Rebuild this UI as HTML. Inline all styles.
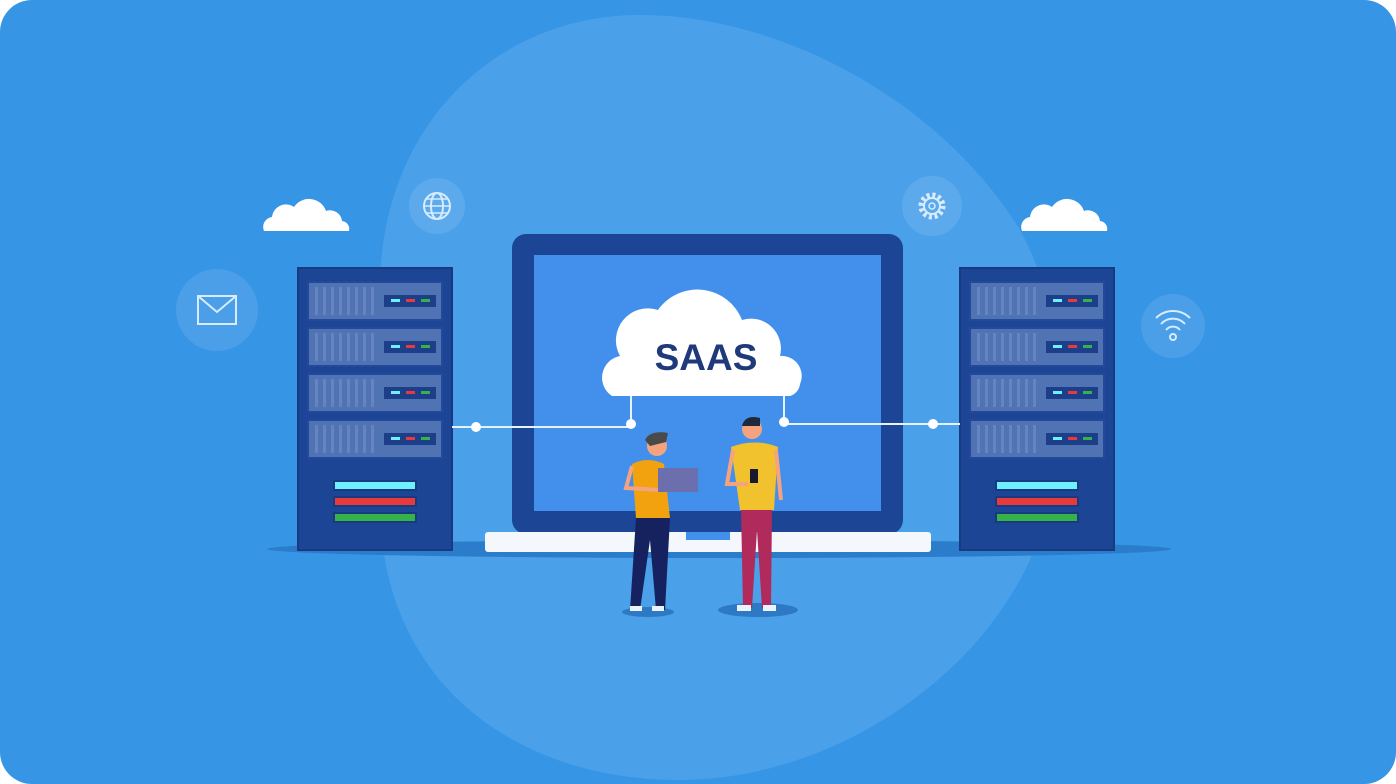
<!DOCTYPE html>
<html><head><meta charset="utf-8"><style>
html,body{margin:0;padding:0;background:#fff;}
svg{display:block}
</style></head><body>
<svg width="1396" height="784" viewBox="0 0 1396 784" xmlns="http://www.w3.org/2000/svg">
<defs>
<g id="srv">
<rect x="0" y="0" width="154" height="282" fill="#1d4596" stroke="#173a80" stroke-width="2"/>
<g id="slot">
<rect x="10" y="14" width="134" height="38" fill="#5073b3" stroke="#24489a" stroke-width="2"/>
<g fill="#6685c0"><rect x="17" y="19" width="3" height="28"/><rect x="25" y="19" width="3" height="28"/><rect x="33" y="19" width="3" height="28"/><rect x="41" y="19" width="3" height="28"/><rect x="49" y="19" width="3" height="28"/><rect x="57" y="19" width="3" height="28"/><rect x="65" y="19" width="3" height="28"/><rect x="73" y="19" width="3" height="28"/></g>
<rect x="86" y="27" width="52" height="12" fill="#1d3f8a"/>
<rect x="93" y="31" width="9" height="3" fill="#6ff0ff"/><rect x="108" y="31" width="9" height="3" fill="#e83a3a"/><rect x="123" y="31" width="9" height="3" fill="#36b24a"/>
</g>
<use href="#slot" y="46"/><use href="#slot" y="92"/><use href="#slot" y="138"/>
<rect x="36" y="213" width="82" height="9" fill="#6ff0ff" stroke="#173a80" stroke-width="2"/>
<rect x="36" y="229" width="82" height="9" fill="#e83a3a" stroke="#173a80" stroke-width="2"/>
<rect x="36" y="245" width="82" height="9" fill="#36b24a" stroke="#173a80" stroke-width="2"/>
</g>
<g id="cl">
<path d="M0 41 a10 10 0 0 1 8 -14 a14 14 0 0 1 22 -10 a18 18 0 0 1 32 4 a12 12 0 0 1 16 10 a8 8 0 0 1 7 10 z" fill="#fff"/>
</g>
</defs>
<rect width="1396" height="784" rx="32" fill="#3795e6"/>
<path d="M380 280 C385 120 500 15 640 15 C780 15 940 100 1020 230 C1080 340 1060 470 1030 560 C970 690 820 780 680 780 C530 780 410 700 385 560 C370 460 375 360 380 280 Z" fill="#4aa1ea"/>
<ellipse cx="719" cy="549" rx="452" ry="9" fill="#2b7ccb"/>
<!-- icons -->
<circle cx="217" cy="310" r="41" fill="#ffffff" fill-opacity="0.1"/>
<rect x="198" y="296" width="38" height="28" fill="none" stroke="#d8ecff" stroke-width="2"/><path d="M198 296 L217 312 L236 296" fill="none" stroke="#d8ecff" stroke-width="2"/>
<circle cx="437" cy="206" r="28" fill="#ffffff" fill-opacity="0.1"/>
<circle cx="437" cy="206" r="13" fill="none" stroke="#d8ecff" stroke-width="2"/><ellipse cx="437" cy="206" rx="6" ry="13" fill="none" stroke="#d8ecff" stroke-width="2"/><path d="M424 206h26M426 199h22M426 213h22" stroke="#d8ecff" stroke-width="1.5"/>
<circle cx="932" cy="206" r="30" fill="#ffffff" fill-opacity="0.1"/>
<circle cx="932" cy="206" r="11" fill="none" stroke="#d8ecff" stroke-width="5" stroke-dasharray="3 2.76"/><circle cx="932" cy="206" r="8" fill="none" stroke="#d8ecff" stroke-width="2"/><circle cx="932" cy="206" r="3" fill="none" stroke="#d8ecff" stroke-width="1.5"/>
<circle cx="1173" cy="326" r="32" fill="#ffffff" fill-opacity="0.1"/>
<path d="M1156 318 a24 24 0 0 1 34 0 M1161 324 a16 16 0 0 1 24 0 M1166 330 a9 9 0 0 1 14 0" fill="none" stroke="#d8ecff" stroke-width="2"/><circle cx="1173" cy="337" r="3" fill="none" stroke="#d8ecff" stroke-width="2"/>
<use href="#cl" x="264" y="190"/>
<use href="#cl" x="1022" y="190"/>
<!-- servers -->
<use href="#srv" x="298" y="268"/>
<use href="#srv" x="960" y="268"/>
<!-- laptop -->
<rect x="512" y="234" width="391" height="300" rx="14" fill="#1d4596"/>
<rect x="534" y="255" width="347" height="256" fill="#4390ec"/>
<rect x="485" y="532" width="446" height="20" rx="3" fill="#f4f7fb"/>
<rect x="686" y="532" width="44" height="8" fill="#4390ec"/>
<!-- connectors -->
<g stroke="#e6f2ff" stroke-width="2" fill="none"><path d="M452 427 H631 V395"/><path d="M960 424 H784 V395"/></g>
<g fill="#fff"><circle cx="476" cy="427" r="5"/><circle cx="631" cy="424" r="5"/><circle cx="784" cy="422" r="5"/><circle cx="933" cy="424" r="5"/></g>
<!-- SAAS cloud -->
<path d="M612 396 a22 22 0 0 1 8 -40 a32 32 0 0 1 38 -46 a48 48 0 0 1 84 10 a30 30 0 0 1 38 36 a20 20 0 0 1 20 28 a14 14 0 0 1 -10 12 z" fill="#fff"/>
<text x="706" y="370" text-anchor="middle" font-family="Liberation Sans, sans-serif" font-weight="bold" font-size="37" fill="#1f3a7a">SAAS</text>
<!-- people -->
<ellipse cx="648" cy="612" rx="26" ry="5" fill="#2e79c4"/>
<ellipse cx="758" cy="610" rx="40" ry="7" fill="#2e79c4"/>
<path d="M636 518 L630 610 H640 L650 540 L656 610 H665 L670 518 Z" fill="#162260"/>
<path d="M632 464 Q648 456 664 464 L670 518 H636 Z" fill="#f2a20f"/>
<path d="M632 466 L626 488 L660 490" fill="none" stroke="#f5a37e" stroke-width="4"/>
<circle cx="657" cy="446" r="10" fill="#f5a37e"/>
<path d="M645 440 Q650 430 668 433 L666 442 L650 446 Z" fill="#4a4a4a"/>
<rect x="658" y="468" width="40" height="24" fill="#6b6fae"/>
<path d="M741 508 L743 608 H752 L757 530 L762 608 H771 L772 508 Z" fill="#b02a5c"/>
<path d="M731 447 Q755 438 778 447 L774 510 H740 Z" fill="#f2c12e"/>
<path d="M733 450 L727 484 L748 484" fill="none" stroke="#f5a37e" stroke-width="4"/>
<path d="M776 450 L781 500" stroke="#f5a37e" stroke-width="4"/>
<rect x="750" y="469" width="8" height="14" fill="#1a1a2e"/>
<circle cx="752" cy="429" r="10" fill="#f5a37e"/>
<path d="M742 426 Q745 414 760 418 L760 426 Z" fill="#1e2a3a"/>
<g fill="#eaf3ff"><rect x="630" y="606" width="12" height="5"/><rect x="652" y="606" width="12" height="5"/><rect x="737" y="605" width="14" height="6"/><rect x="763" y="605" width="13" height="6"/></g>
</svg>
</body></html>
